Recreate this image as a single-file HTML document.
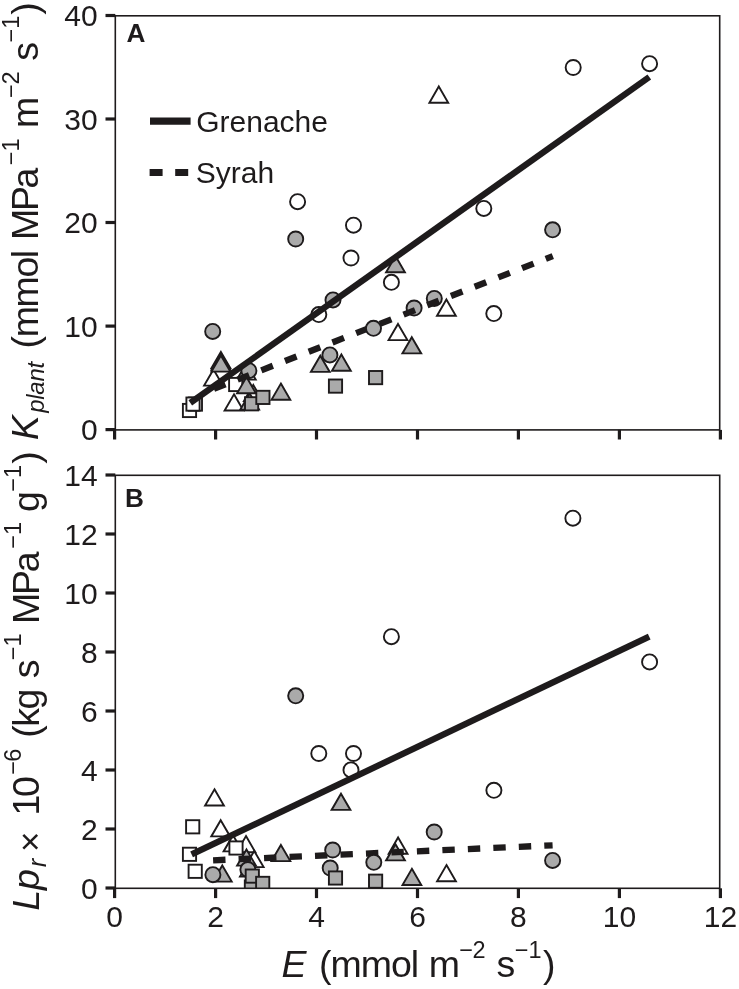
<!DOCTYPE html>
<html lang="en"><head><meta charset="utf-8"><title>Figure</title>
<style>html,body{margin:0;padding:0;background:#fff}svg{display:block}text{font-family:"Liberation Sans", Arial, Helvetica, sans-serif;fill:#1e1b1c}</style></head><body>
<svg width="739" height="989" viewBox="0 0 739 989">
<rect width="739" height="989" fill="#fff"/>
<defs><clipPath id="ca"><rect x="115.3" y="15.8" width="604.4000000000001" height="414.4"/></clipPath><clipPath id="cb"><rect x="115.3" y="475.3" width="604.4000000000001" height="413.3"/></clipPath></defs>
<g clip-path="url(#ca)" stroke="#1e1b1c" stroke-width="1.9" stroke-linejoin="miter">
<path d="M438.8 86.5L448.2 102.7L429.4 102.7Z" fill="#fff"/>
<path d="M446.4 299.5L455.8 315.7L437.0 315.7Z" fill="#fff"/>
<path d="M398.0 323.9L407.4 340.1L388.6 340.1Z" fill="#fff"/>
<path d="M213.5 369.4L222.9 385.6L204.1 385.6Z" fill="#fff"/>
<path d="M234.0 394.3L243.4 410.5L224.6 410.5Z" fill="#fff"/>
<path d="M246.3 363.4L255.7 379.6L236.9 379.6Z" fill="#fff"/>
<path d="M253.3 384.9L262.7 401.1L243.9 401.1Z" fill="#fff"/>
<rect x="182.9" y="403.9" width="13.2" height="13.2" fill="#fff"/>
<rect x="188.8" y="397.5" width="13.2" height="13.2" fill="#fff"/>
<rect x="186.4" y="397.5" width="13.2" height="13.2" fill="#fff"/>
<rect x="229.1" y="377.9" width="13.2" height="13.2" fill="#fff"/>
<path d="M395.5 256.0L404.9 272.2L386.1 272.2Z" fill="#aaaaaa"/>
<path d="M411.8 337.2L421.2 353.4L402.4 353.4Z" fill="#aaaaaa"/>
<path d="M320.3 355.7L329.7 371.9L310.9 371.9Z" fill="#aaaaaa"/>
<path d="M341.4 354.5L350.8 370.7L332.0 370.7Z" fill="#aaaaaa"/>
<path d="M280.9 383.6L290.3 399.8L271.5 399.8Z" fill="#aaaaaa"/>
<path d="M220.9 351.9L230.3 368.1L211.5 368.1Z" fill="#aaaaaa"/>
<path d="M220.9 353.6L230.3 369.8L211.5 369.8Z" fill="#aaaaaa"/>
<path d="M220.9 355.4L230.3 371.6L211.5 371.6Z" fill="#aaaaaa"/>
<path d="M249.7 393.4L259.1 409.6L240.3 409.6Z" fill="#aaaaaa"/>
<path d="M246.5 377.1L255.9 393.3L237.1 393.3Z" fill="#aaaaaa"/>
<circle cx="295.7" cy="239.0" r="7.55" fill="#aaaaaa"/>
<circle cx="333.0" cy="299.9" r="7.55" fill="#aaaaaa"/>
<circle cx="414.1" cy="308.0" r="7.55" fill="#aaaaaa"/>
<circle cx="434.3" cy="298.4" r="7.55" fill="#aaaaaa"/>
<circle cx="552.6" cy="229.8" r="7.55" fill="#aaaaaa"/>
<circle cx="248.9" cy="370.7" r="7.55" fill="#aaaaaa"/>
<circle cx="212.7" cy="331.4" r="7.55" fill="#aaaaaa"/>
<circle cx="329.9" cy="354.9" r="7.55" fill="#aaaaaa"/>
<circle cx="297.6" cy="201.7" r="7.55" fill="#fff"/>
<circle cx="353.5" cy="225.2" r="7.55" fill="#fff"/>
<circle cx="351.0" cy="258.0" r="7.55" fill="#fff"/>
<circle cx="391.4" cy="282.3" r="7.55" fill="#fff"/>
<circle cx="318.8" cy="314.6" r="7.55" fill="#fff"/>
<circle cx="483.8" cy="208.4" r="7.55" fill="#fff"/>
<circle cx="493.8" cy="313.6" r="7.55" fill="#fff"/>
<circle cx="573.2" cy="67.5" r="7.55" fill="#fff"/>
<circle cx="649.6" cy="63.7" r="7.55" fill="#fff"/>
<rect x="328.9" y="379.5" width="13.2" height="13.2" fill="#aaaaaa"/>
<rect x="369.0" y="371.0" width="13.2" height="13.2" fill="#aaaaaa"/>
<rect x="245.0" y="397.2" width="13.2" height="13.2" fill="#aaaaaa"/>
<rect x="256.3" y="390.8" width="13.2" height="13.2" fill="#aaaaaa"/>
</g>
<g stroke="#1e1b1c" stroke-width="6.3" fill="none">
<line x1="190.3" y1="402.9" x2="649.3" y2="77.0"/>
<line x1="213.9" y1="388.9" x2="552.8" y2="256.1" stroke-dasharray="12.4 13.06"/>
</g>
<g stroke="#1e1b1c" stroke-width="1.9">
<circle cx="373.5" cy="328.3" r="7.55" fill="#aaaaaa"/>
</g>
<g clip-path="url(#cb)" stroke="#1e1b1c" stroke-width="1.9" stroke-linejoin="miter">
<path d="M214.5 789.3L223.9 805.5L205.1 805.5Z" fill="#fff"/>
<path d="M220.7 820.2L230.1 836.4L211.3 836.4Z" fill="#fff"/>
<path d="M233.0 835.2L242.4 851.4L223.6 851.4Z" fill="#fff"/>
<path d="M246.0 836.1L255.4 852.3L236.6 852.3Z" fill="#fff"/>
<path d="M254.2 850.9L263.6 867.1L244.8 867.1Z" fill="#fff"/>
<path d="M398.1 837.5L407.5 853.7L388.7 853.7Z" fill="#fff"/>
<path d="M446.5 865.1L455.9 881.3L437.1 881.3Z" fill="#fff"/>
<rect x="186.1" y="820.2" width="13.2" height="13.2" fill="#fff"/>
<rect x="182.9" y="847.7" width="13.2" height="13.2" fill="#fff"/>
<rect x="188.6" y="864.7" width="13.2" height="13.2" fill="#fff"/>
<rect x="229.4" y="841.4" width="13.2" height="13.2" fill="#fff"/>
<path d="M341.0 793.7L350.4 809.9L331.6 809.9Z" fill="#aaaaaa"/>
<path d="M222.3 865.4L231.7 881.6L212.9 881.6Z" fill="#aaaaaa"/>
<path d="M249.4 860.4L258.8 876.6L240.0 876.6Z" fill="#aaaaaa"/>
<path d="M246.5 849.4L255.9 865.6L237.1 865.6Z" fill="#aaaaaa"/>
<path d="M395.5 844.2L404.9 860.4L386.1 860.4Z" fill="#aaaaaa"/>
<path d="M411.9 868.8L421.3 885.0L402.5 885.0Z" fill="#aaaaaa"/>
<path d="M280.9 844.9L290.3 861.1L271.5 861.1Z" fill="#aaaaaa"/>
<circle cx="295.7" cy="695.8" r="7.55" fill="#aaaaaa"/>
<circle cx="434.2" cy="832.0" r="7.55" fill="#aaaaaa"/>
<circle cx="552.6" cy="860.4" r="7.55" fill="#aaaaaa"/>
<circle cx="330.2" cy="868.0" r="7.55" fill="#aaaaaa"/>
<circle cx="212.9" cy="874.7" r="7.55" fill="#aaaaaa"/>
<circle cx="247.9" cy="869.6" r="7.55" fill="#aaaaaa"/>
<circle cx="318.8" cy="753.5" r="7.55" fill="#fff"/>
<circle cx="353.5" cy="753.5" r="7.55" fill="#fff"/>
<circle cx="351.0" cy="769.9" r="7.55" fill="#fff"/>
<circle cx="391.4" cy="636.7" r="7.55" fill="#fff"/>
<circle cx="493.9" cy="790.3" r="7.55" fill="#fff"/>
<circle cx="572.9" cy="518.2" r="7.55" fill="#fff"/>
<circle cx="649.6" cy="661.9" r="7.55" fill="#fff"/>
<rect x="244.8" y="880.4" width="13.2" height="13.2" fill="#aaaaaa"/>
<rect x="245.7" y="869.5" width="13.2" height="13.2" fill="#aaaaaa"/>
<rect x="256.1" y="876.8" width="13.2" height="13.2" fill="#aaaaaa"/>
<rect x="328.9" y="871.4" width="13.2" height="13.2" fill="#aaaaaa"/>
<rect x="369.0" y="874.6" width="13.2" height="13.2" fill="#aaaaaa"/>
</g>
<g stroke="#1e1b1c" stroke-width="6.3" fill="none">
<line x1="191.6" y1="854.4" x2="649.2" y2="636.6"/>
<line x1="213.1" y1="860.3" x2="552.6" y2="845.3" stroke-dasharray="12.4 13.1"/>
</g>
<g stroke="#1e1b1c" stroke-width="1.9">
<circle cx="332.7" cy="850.0" r="7.55" fill="#aaaaaa"/>
<circle cx="373.8" cy="862.3" r="7.55" fill="#aaaaaa"/>
</g>
<g fill="none" stroke="#1e1b1c" stroke-width="1.6">
<rect x="115.3" y="15.8" width="604.4" height="414.1"/>
<rect x="115.3" y="475.3" width="604.4" height="413.0"/>
</g>
<g stroke="#1e1b1c" stroke-width="3.2">
<line x1="105.5" y1="429.6" x2="115.3" y2="429.6"/>
<line x1="105.5" y1="326.1" x2="115.3" y2="326.1"/>
<line x1="105.5" y1="222.5" x2="115.3" y2="222.5"/>
<line x1="105.5" y1="119.0" x2="115.3" y2="119.0"/>
<line x1="105.5" y1="15.5" x2="115.3" y2="15.5"/>
<line x1="105.5" y1="888.0" x2="115.3" y2="888.0"/>
<line x1="105.5" y1="829.0" x2="115.3" y2="829.0"/>
<line x1="105.5" y1="770.0" x2="115.3" y2="770.0"/>
<line x1="105.5" y1="711.0" x2="115.3" y2="711.0"/>
<line x1="105.5" y1="652.0" x2="115.3" y2="652.0"/>
<line x1="105.5" y1="593.0" x2="115.3" y2="593.0"/>
<line x1="105.5" y1="534.0" x2="115.3" y2="534.0"/>
<line x1="105.5" y1="475.0" x2="115.3" y2="475.0"/>
<line x1="114.6" y1="429.9" x2="114.6" y2="439.5"/>
<line x1="114.6" y1="888.3" x2="114.6" y2="898.1"/>
<line x1="215.6" y1="429.9" x2="215.6" y2="439.5"/>
<line x1="215.6" y1="888.3" x2="215.6" y2="898.1"/>
<line x1="316.5" y1="429.9" x2="316.5" y2="439.5"/>
<line x1="316.5" y1="888.3" x2="316.5" y2="898.1"/>
<line x1="417.5" y1="429.9" x2="417.5" y2="439.5"/>
<line x1="417.5" y1="888.3" x2="417.5" y2="898.1"/>
<line x1="518.4" y1="429.9" x2="518.4" y2="439.5"/>
<line x1="518.4" y1="888.3" x2="518.4" y2="898.1"/>
<line x1="619.4" y1="429.9" x2="619.4" y2="439.5"/>
<line x1="619.4" y1="888.3" x2="619.4" y2="898.1"/>
<line x1="720.4" y1="429.9" x2="720.4" y2="439.5"/>
<line x1="720.4" y1="888.3" x2="720.4" y2="898.1"/>
</g>
<g font-size="30" text-anchor="end">
<text x="97.6" y="440.2">0</text>
<text x="97.6" y="336.7">10</text>
<text x="97.6" y="233.1">20</text>
<text x="97.6" y="129.6">30</text>
<text x="97.6" y="26.1">40</text>
<text x="97.6" y="898.6">0</text>
<text x="97.6" y="839.6">2</text>
<text x="97.6" y="780.6">4</text>
<text x="97.6" y="721.6">6</text>
<text x="97.6" y="662.6">8</text>
<text x="97.6" y="603.6">10</text>
<text x="97.6" y="544.6">12</text>
<text x="97.6" y="485.6">14</text>
</g>
<g font-size="30" text-anchor="middle">
<text x="114.6" y="927.4">0</text>
<text x="215.6" y="927.4">2</text>
<text x="316.5" y="927.4">4</text>
<text x="417.5" y="927.4">6</text>
<text x="518.4" y="927.4">8</text>
<text x="619.4" y="927.4">10</text>
<text x="720.4" y="927.4">12</text>
</g>
<text x="126.6" y="42.0" font-size="26.2" font-weight="bold">A</text>
<text x="124.9" y="506.7" font-size="26.2" font-weight="bold">B</text>
<line x1="150" y1="121.1" x2="190.6" y2="121.1" stroke="#1e1b1c" stroke-width="7.2"/>
<line x1="149.6" y1="172.6" x2="188.2" y2="172.6" stroke="#1e1b1c" stroke-width="7.0" stroke-dasharray="13 12.6"/>
<text x="196.2" y="132.4" font-size="30">Grenache</text>
<text x="195.8" y="182.6" font-size="30">Syrah</text>
<text font-size="37.5"><tspan x="281.55" y="976.70" font-size="37.5" font-style="italic">E</tspan><tspan x="318.97 330.46 360.69 390.93 410.78" y="976.70" font-size="37.5">(mmol</tspan><tspan x="428.81" y="976.70" font-size="37.5">m</tspan><tspan x="459.14 472.61" y="958.30" font-size="23.5">−2</tspan><tspan x="496.56" y="976.70" font-size="37.5">s</tspan><tspan x="514.74 528.46" y="958.30" font-size="23.5">−1</tspan><tspan x="543.08" y="976.70" font-size="37.5">)</tspan></text>
<text transform="translate(0 989) rotate(-90)" font-size="37.5"><tspan x="548.75" y="37.80" font-size="37.5" font-style="italic">K</tspan><tspan x="576.30 589.35 594.39 607.45 620.50" y="43.90" font-size="24" font-style="italic">plant</tspan><tspan x="640.57 651.68 681.54 711.40 730.88" y="37.80" font-size="37.5">(mmol</tspan><tspan x="749.12 777.95 800.54" y="37.80" font-size="37.5">MPa</tspan><tspan x="823.84 837.56" y="19.40" font-size="23.5">−1</tspan><tspan x="861.11" y="37.80" font-size="37.5">m</tspan><tspan x="890.94 904.51" y="19.40" font-size="23.5">−2</tspan><tspan x="928.26" y="37.80" font-size="37.5">s</tspan><tspan x="946.44 960.16" y="19.40" font-size="23.5">−1</tspan><tspan x="974.18" y="37.80" font-size="37.5">)</tspan></text>
<text transform="translate(0 989) rotate(-90)" font-size="37.5"><tspan x="78.25" y="39.40" font-size="37.5" font-style="italic">L</tspan><tspan x="99.03" y="39.40" font-size="37.5" font-style="italic">p</tspan><tspan x="121.68" y="46.00" font-size="25.5" font-style="italic">r</tspan><tspan x="136.97" y="41.80" font-size="35">×</tspan><tspan x="173.52 192.01" y="39.40" font-size="37.5">10</tspan><tspan x="214.24 227.36" y="21.00" font-size="23.5">−6</tspan><tspan x="251.27 262.24 279.46" y="39.40" font-size="37.5">(kg</tspan><tspan x="310.66" y="39.40" font-size="37.5">s</tspan><tspan x="328.84 342.56" y="21.00" font-size="23.5">−1</tspan><tspan x="365.02 394.05 416.84" y="39.40" font-size="37.5">MPa</tspan><tspan x="440.24 453.96" y="21.00" font-size="23.5">−1</tspan><tspan x="476.93" y="39.40" font-size="37.5">g</tspan><tspan x="497.24 510.96" y="21.00" font-size="23.5">−1</tspan><tspan x="525.18" y="39.40" font-size="37.5">)</tspan></text>
</svg></body></html>
